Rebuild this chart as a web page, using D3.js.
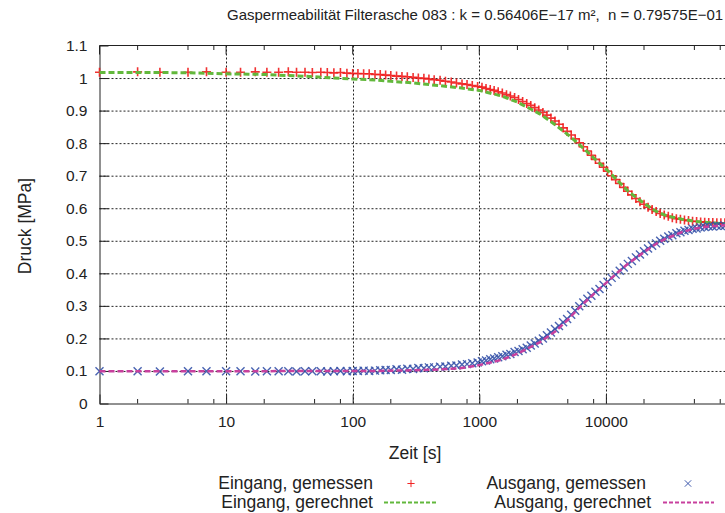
<!DOCTYPE html>
<html>
<head>
<meta charset="utf-8">
<script src="https://cdn.jsdelivr.net/npm/d3@7"></script>
<style>
  body { margin: 0; background: #fff; }
  text { font-family: "Liberation Sans", Arial, sans-serif; fill: #222; }
</style>
</head>
<body>
<svg id="chart" width="725" height="513"></svg>
<script>
// measured times [s] (shared by inlet and outlet)
const MEAS_TIME = [1,2,3,5,7,10,13,17,21,26,31,36,42,48,56,63,71,80,90,100,
  110,122,135,150,165,182,200,222,245,270,300,330,365,400,440,490,540,600,660,730,800,880,970,
  1050,1130,1220,1310,1410,1520,1640,1760,1900,2040,2200,2370,2550,2740,2950,3180,3420,3680,3960,
  4260,4590,4940,5320,5720,6160,6630,7140,7680,8270,8900,9580,10300,11100,11950,12860,13840,14900,
  16040,17260,18580,20000,21530,23170,24940,26840,28890,31100,33470,36030,38780,41740,44930,48360,
  52050,56020,60300,64900,69860,75190,80930,87100]

// Eingang, gemessen [MPa]
const IN_MEAS = [1.018,1.019,1.018,1.018,1.019,1.018,1.018,1.019,1.018,1.018,1.019,1.018,1.018,1.017,1.018,1.017,1.016,1.017,1.015,1.014,
  1.014,1.013,1.013,1.011,1.011,1.009,1.008,1.006,1.005,1.004,1.002,1.000,0.999,0.997,0.995,0.993,0.990,0.988,0.985,0.982,0.980,0.977,0.974,
  0.972,0.968,0.965,0.962,0.958,0.954,0.949,0.945,0.940,0.934,0.928,0.922,0.916,0.909,0.902,0.894,0.886,0.877,0.868,
  0.858,0.847,0.836,0.825,0.813,0.801,0.789,0.776,0.763,0.750,0.738,0.726,0.714,0.700,0.688,0.676,0.664,0.652,
  0.641,0.630,0.620,0.612,0.603,0.596,0.590,0.584,0.579,0.575,0.571,0.568,0.566,0.564,0.562,0.560,
  0.559,0.558,0.557,0.556,0.556,0.555,0.555,0.555]

// Ausgang, gemessen [MPa]
const OUT_MEAS = [0.099,0.099,0.098,0.099,0.099,0.099,0.099,0.098,0.099,0.099,0.099,0.098,0.099,0.099,0.099,0.098,0.099,0.100,0.099,0.100,
  0.100,0.101,0.100,0.101,0.102,0.103,0.103,0.105,0.104,0.107,0.106,0.109,0.108,0.111,0.111,0.113,0.114,0.116,0.117,0.120,0.121,0.124,0.126,
  0.130,0.132,0.136,0.138,0.142,0.145,0.150,0.152,0.158,0.161,0.167,0.171,0.178,0.184,0.193,0.200,0.210,0.218,0.229,
  0.238,0.250,0.260,0.273,0.285,0.299,0.310,0.322,0.331,0.343,0.352,0.364,0.374,0.386,0.396,0.408,0.418,0.429,
  0.438,0.449,0.458,0.468,0.476,0.485,0.492,0.500,0.506,0.513,0.517,0.523,0.526,0.531,0.533,0.537,
  0.538,0.541,0.542,0.544,0.544,0.546,0.545,0.546]

// calculated curves
const CALC_TIME = [1,1.5,2,3,5,7,10,15,20,30,50,70,100,150,200,300,500,700,1000,1500,2000,3000,4000,
  5000,6000,7000,8000,10000,12000,15000,20000,25000,30000,40000,50000,60000,70000,80000,100000]
const IN_CALC = [1.017,1.017,1.017,1.017,1.016,1.015,1.013,1.012,1.011,1.008,1.004,1.000,0.997,0.994,0.990,0.985,0.976,0.970,0.962,0.945,0.926,0.890,0.856,
  0.826,0.800,0.776,0.755,0.721,0.690,0.652,0.615,0.590,0.577,0.566,0.560,0.557,0.555,0.553,0.552]
const OUT_CALC = [0.099,0.099,0.099,0.099,0.099,0.099,0.099,0.099,0.099,0.100,0.100,0.100,0.100,0.100,0.101,0.102,0.105,0.108,0.118,0.134,0.153,0.188,0.222,
  0.257,0.290,0.315,0.336,0.370,0.398,0.430,0.465,0.491,0.507,0.527,0.537,0.542,0.545,0.547,0.548]

const X_TICKS = [1, 10, 100, 1000, 10000]
const X_MINOR = [2, 5, 8]
const Y_TICKS = [0, 0.1, 0.2, 0.3, 0.4, 0.5, 0.6, 0.7, 0.8, 0.9, 1, 1.1]

const TITLE = "Gaspermeabilität Filterasche 083 : k = 0.56406E\u221217 m\u00b2,  n = 0.79575E\u221201"

const LEFT = 99.5, TOP = 45.5, BOTTOM = 403.5, DECADE = 126.6
const RED = "#f01c1c", GREEN = "#62b83c", BLUE = "#3552a8", MAGENTA = "#c8409e"

const svg = d3.select("#chart")
svg.append("rect").attr("width", 725).attr("height", 513).attr("fill", "#fff")

const X_SCALE = d3.scaleLog().domain([1, 100000]).range([LEFT, LEFT + 5 * DECADE])
const Y_SCALE = d3.scaleLinear().domain([0, 1.1]).range([BOTTOM, TOP])
const RIGHT = X_SCALE.range()[1]

// grid
const grid = svg.append("g").attr("stroke", "#222").attr("stroke-width", 1).attr("stroke-dasharray", "2,2")
grid.selectAll(".gy").data(Y_TICKS.filter(v => v > 0 && v < 1.1)).enter().append("line")
  .attr("x1", LEFT).attr("x2", RIGHT)
  .attr("y1", d => Y_SCALE(d) + 0.5).attr("y2", d => Y_SCALE(d) + 0.5)
grid.selectAll(".gx").data(X_TICKS.filter(v => v > 1)).enter().append("line")
  .attr("x1", d => Math.round(X_SCALE(d)) + 0.5).attr("x2", d => Math.round(X_SCALE(d)) + 0.5)
  .attr("y1", TOP).attr("y2", BOTTOM)

// axes
const yAxis = svg.append("g").attr("transform", `translate(${LEFT},0)`)
  .call(d3.axisLeft(Y_SCALE).tickValues(Y_TICKS).tickFormat(d3.format("~g"))
    .tickSizeInner(-9).tickSizeOuter(0).tickPadding(12))
const xAxis = svg.append("g").attr("transform", `translate(0,${BOTTOM})`)
  .call(d3.axisBottom(X_SCALE).tickValues(X_TICKS).tickFormat(d => d)
    .tickSizeInner(-9).tickSizeOuter(0).tickPadding(12))
for (const ax of [xAxis, yAxis]) {
  ax.selectAll("text").attr("font-size", 15.5).style("fill", "#222")
  ax.select(".domain").attr("stroke", "#222")
  ax.selectAll(".tick line").attr("stroke", "#222")
}

// top border and top ticks
svg.append("line").attr("x1", LEFT).attr("x2", RIGHT).attr("y1", TOP).attr("y2", TOP).attr("stroke", "#222")
svg.selectAll(".topTick").data(X_TICKS).enter().append("line")
  .attr("x1", d => X_SCALE(d)).attr("x2", d => X_SCALE(d))
  .attr("y1", TOP).attr("y2", TOP + 9).attr("stroke", "#222")

// minor ticks at 2, 5, 8 of each decade
const minors = []
for (const d of X_TICKS) for (const m of X_MINOR) minors.push(d * m)
minors.forEach(v => {
  svg.append("line").attr("x1", X_SCALE(v)).attr("x2", X_SCALE(v))
    .attr("y1", BOTTOM).attr("y2", BOTTOM - 4.5).attr("stroke", "#222")
  svg.append("line").attr("x1", X_SCALE(v)).attr("x2", X_SCALE(v))
    .attr("y1", TOP).attr("y2", TOP + 4.5).attr("stroke", "#222")
})

// labels
svg.append("text").attr("x", 227).attr("y", 20).attr("font-size", 15)
  .style("white-space", "pre").text(TITLE)
svg.append("text").attr("x", 415).attr("y", 459).attr("font-size", 17.5)
  .attr("text-anchor", "middle").text("Zeit [s]")
svg.append("text").attr("transform", "translate(31,226) rotate(-90)").attr("font-size", 17.5)
  .attr("text-anchor", "middle").text("Druck [MPa]")

// series
const plusPath = "M-4.5,0H4.5M0,-4.5V4.5"
const crossPath = "M-4,-4L4,4M-4,4L4,-4"
const line = vals => d3.line().x((d, i) => X_SCALE(CALC_TIME[i])).y((d, i) => Y_SCALE(vals[i]))

function drawMarkers(vals, path, color, width) {
  svg.append("g").selectAll("path").data(vals).enter().append("path")
    .attr("d", path)
    .attr("transform", (d, i) => `translate(${X_SCALE(MEAS_TIME[i])},${Y_SCALE(d)})`)
    .attr("fill", "none").attr("stroke", color).attr("stroke-width", width).attr("opacity", 0.9)
}

drawMarkers(IN_MEAS, plusPath, RED, 1.6)
svg.append("path").datum(IN_CALC).attr("d", line(IN_CALC))
  .attr("fill", "none").attr("stroke", GREEN).attr("stroke-width", 3).attr("stroke-dasharray", "6,3")
drawMarkers(OUT_MEAS, crossPath, BLUE, 1.4)
svg.append("path").datum(OUT_CALC).attr("d", line(OUT_CALC))
  .attr("fill", "none").attr("stroke", MAGENTA).attr("stroke-width", 2.5).attr("stroke-dasharray", "6,3")

// legend
const legend = [
  {label: "Eingang, gemessen", x: 373, y: 489, kind: "mark", path: plusPath, color: RED, sx: 411},
  {label: "Eingang, gerechnet", x: 373, y: 508, kind: "line", color: GREEN, sx: 384, ex: 437},
  {label: "Ausgang, gemessen", x: 646, y: 489, kind: "mark", path: crossPath, color: BLUE, sx: 688},
  {label: "Ausgang, gerechnet", x: 651, y: 508, kind: "line", color: MAGENTA, sx: 663, ex: 714}
]
legend.forEach(l => {
  svg.append("text").attr("x", l.x).attr("y", l.y).attr("font-size", 17.5)
    .attr("text-anchor", "end").text(l.label)
  if (l.kind === "mark") {
    svg.append("path").attr("d", l.path).attr("transform", `translate(${l.sx},${l.y - 5.5}) scale(0.8)`)
      .attr("fill", "none").attr("stroke", l.color).attr("stroke-width", 1.2)
  } else {
    svg.append("line").attr("x1", l.sx).attr("x2", l.ex).attr("y1", l.y - 5.5).attr("y2", l.y - 5.5)
      .attr("stroke", l.color).attr("stroke-width", 2).attr("stroke-dasharray", "4,2")
  }
})
</script>
</body>
</html>
